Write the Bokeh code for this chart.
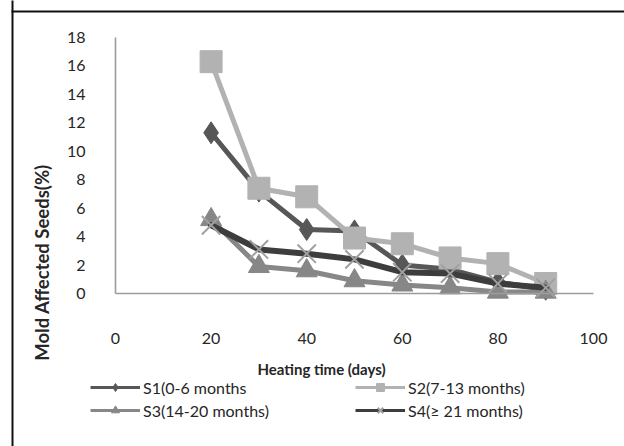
from bokeh.plotting import figure
from bokeh.models import (Range1d, FixedTicker, Label, Legend, LegendItem, BoxAnnotation)
from bokeh.embed import file_html
from bokeh.resources import INLINE
import math

# ---- data ----
days = [20, 30, 40, 50, 60, 70, 80, 90]
s1 = [11.3, 7.2, 4.5, 4.4, 2.0, 1.7, 0.8, 0.3]
s2 = [16.3, 7.4, 6.8, 3.9, 3.5, 2.5, 2.1, 0.7]
s3 = [5.2, 1.9, 1.6, 0.9, 0.6, 0.4, 0.1, 0.1]
s4 = [4.8, 3.1, 2.8, 2.4, 1.5, 1.4, 0.7, 0.4]
names = ["S1(0-6 months", "S2(7-13 months)", "S3(14-20 months)", "S4(\u2265 21 months)"]
x_ticks = [0, 20, 40, 60, 80, 100]
y_ticks = [0, 2, 4, 6, 8, 10, 12, 14, 16, 18]
x_title = "Heating time (days)"
y_title = "Mold Affected Seeds(%)"

FONT = "Lato"

# plot area: x 0..100 -> px 115..593, y 0..18 -> px 293..37 ; frame covers the whole canvas
XS = (593 - 115) / 100.0
YS = (293 - 37) / 18.0
x_lo, x_hi = -115 / XS, (624 - 115) / XS
y_lo, y_hi = -(446 - 293) / YS, 293 / YS

p = figure(width=624, height=446, output_backend="svg", toolbar_location=None,
           x_range=Range1d(x_lo, x_hi), y_range=Range1d(y_lo, y_hi),
           min_border=0)
p.outline_line_color = None
p.grid.visible = False
p.background_fill_color = "white"
p.border_fill_color = "white"

for ax in (p.xaxis[0], p.yaxis[0]):
    ax.axis_line_color = "#9c9c9c"
    ax.axis_line_width = 1.6
    ax.major_tick_line_color = None
    ax.minor_tick_line_color = None
    ax.major_label_text_font = FONT
    ax.major_label_text_font_size = "16px"
    ax.major_label_text_color = "#262626"
    ax.fixed_location = 0
p.xaxis[0].ticker = FixedTicker(ticks=x_ticks)
p.yaxis[0].ticker = FixedTicker(ticks=y_ticks)
p.xaxis[0].bounds = (x_ticks[0], x_ticks[-1])
p.yaxis[0].bounds = (y_ticks[0], y_ticks[-1])
p.xaxis[0].major_label_standoff = 33
p.yaxis[0].major_label_standoff = 24

series = [
    (s1, "#575757", "diamond", "#575757", 22),
    (s2, "#b2b2b2", "square", "#b2b2b2", 22),
    (s3, "#878787", "triangle", "#878787", 21),
    (s4, "#3d3d3d", "x", "#a0a0a0", 26),
]
items = []
for (vals, col, mk, mcol, sz), name in zip(series, names):
    # thin line (used for the legend sample), covered by the thick plotted line
    r_leg = p.line(days, vals, line_color=col, line_width=3)
    p.line(days, vals, line_color=col, line_width=5 if mk != "x" else 6,
           line_join="round", line_cap="round")
    if mk == "x":
        r_mk = p.scatter(days, vals, marker=mk, size=sz, line_color=mcol, line_width=2)
    else:
        r_mk = p.scatter(days, vals, marker=mk, size=sz, fill_color=mcol, line_color=mcol)
    items.append(LegendItem(label=name, renderers=[r_leg, r_mk]))

legend = Legend(items=items, orientation="horizontal", ncols=2,
                location=(90, 26), glyph_width=50, glyph_height=20,
                label_height=20, label_width=209, spacing=3, label_standoff=3,
                padding=0, margin=0, border_line_alpha=0, background_fill_alpha=0,
                label_text_font=FONT, label_text_font_size="16px", label_text_color="#262626")
p.add_layout(legend, "center")

# axis titles
p.add_layout(Label(x=(321 - 115) / XS, y=(293 - 368) / YS, text=x_title,
                   text_align="center", text_baseline="middle",
                   text_font=FONT, text_font_style="bold", text_font_size="15px",
                   text_color="#262626"))
p.add_layout(Label(x=(41 - 115) / XS, y=(293 - 262) / YS, text=y_title, angle=math.pi / 2,
                   text_align="center", text_baseline="middle", text_font=FONT,
                   text_font_style="bold", text_font_size="18.5px", text_color="#262626"))

# page border lines (table frame), given in canvas pixels
def border_box(l, r, t, b):
    return BoxAnnotation(left=(l - 115) / XS, right=(r - 115) / XS,
                         top=(293 - t) / YS, bottom=(293 - b) / YS,
                         fill_color="#111111", fill_alpha=1, line_color=None,
                         level="overlay")

p.add_layout(border_box(11, 630, 10, 12))
p.add_layout(border_box(11, 13, -5, 450))

open("out.html", "w").write(file_html(p, INLINE))
